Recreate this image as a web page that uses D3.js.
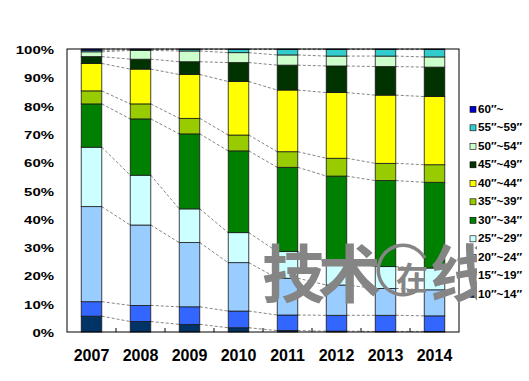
<!DOCTYPE html>
<html><head><meta charset="utf-8">
<script src="https://cdn.jsdelivr.net/npm/d3@7"></script>
<style>body{margin:0;background:#fff}svg{display:block}</style>
</head><body>
<svg id="c" width="529" height="381"></svg>
<script>
const years = ["2007","2008","2009","2010","2011","2012","2013","2014"];
const groupLabels = ["10\u2033~14\u2033","15\u2033~19\u2033","20\u2033~24\u2033","25\u2033~29\u2033","30\u2033~34\u2033","35\u2033~39\u2033","40\u2033~44\u2033","45\u2033~49\u2033","50\u2033~54\u2033","55\u2033~59\u2033","60\u2033~"];
const groupColors = ["#003366","#3366FF","#99CCFF","#CCFFFF","#008000","#99CC00","#FFFF00","#003300","#CCFFCC","#33CCCC","#0000CC"];
const s10_14 = [5.6,3.7,2.7,1.5,0.5,0.3,0.2,0.2];
const s15_19 = [5.1,5.7,6.2,5.9,5.5,5.6,5.7,5.5];
const s20_24 = [33.6,28.4,22.7,17.1,13.0,10.7,9.5,9.2];
const s25_29 = [21.0,17.6,11.9,10.6,9.4,8.0,7.7,7.7];
const s30_34 = [15.3,19.9,26.5,28.9,29.8,30.5,30.4,30.3];
const s35_39 = [4.6,5.3,5.5,5.6,5.5,6.3,6.1,6.2];
const s40_44 = [9.7,12.3,15.5,18.9,21.8,23.2,24.1,24.1];
const s45_49 = [2.4,3.5,4.5,6.7,8.8,9.4,10.1,10.4];
const s50_54 = [1.7,3.1,3.8,3.5,3.6,3.5,3.7,3.6];
const s55_59 = [0.5,0.3,0.5,1.1,1.9,2.3,2.3,2.6];
const s60 = [0.5,0.2,0.2,0.2,0.2,0.2,0.2,0.2];
const yTicks = [0,10,20,30,40,50,60,70,80,90,100];
const seriesList = [s10_14,s15_19,s20_24,s25_29,s30_34,s35_39,s40_44,s45_49,s50_54,s55_59,s60];

const rows = years.map((y,i)=>{const r={year:y};groupLabels.forEach((g,j)=>r[g]=seriesList[j][i]);return r;});
const stacked = d3.stack().keys(groupLabels)(rows);

const svg = d3.select("#c");
const L=67,R=459,T=49,B=332;
const x = d3.scaleBand().domain(years).range([L,R]).paddingInner(0.58).paddingOuter(0.29);
const y = d3.scaleLinear().domain([0,100]).range([B,T]);
const bw = x.bandwidth();
const step = x.step();

// series lines
const lineG = svg.append("g");
stacked.forEach(s=>{
  for(let i=0;i<years.length-1;i++){
    lineG.append("line")
      .attr("x1",x(years[i])+bw).attr("y1",y(s[i][1]))
      .attr("x2",x(years[i+1])).attr("y2",y(s[i+1][1]))
      .attr("stroke","#666").attr("stroke-width",0.8).attr("stroke-dasharray","3,2");
  }
});

// bars
const barG = svg.append("g");
stacked.forEach((s,j)=>{
  barG.selectAll(null).data(s).enter().append("rect")
    .attr("x",d=>x(d.data.year)).attr("width",bw)
    .attr("y",d=>y(d[1])).attr("height",d=>y(d[0])-y(d[1]))
    .attr("fill",groupColors[j]).attr("stroke","#1a1a1a").attr("stroke-width",0.8);
});

// frame
svg.append("rect").attr("x",L).attr("y",T).attr("width",R-L).attr("height",B-T)
  .attr("fill","none").attr("stroke","#000").attr("stroke-width",1);

// x axis tick marks at band boundaries
const xt = d3.range(1,years.length).map(k=>L+k*step);
svg.selectAll(null).data(xt).enter().append("line")
  .attr("x1",d=>d).attr("x2",d=>d).attr("y1",B).attr("y2",B-4)
  .attr("stroke","#000").attr("stroke-width",1);

// x labels
svg.selectAll(null).data(years).enter().append("text")
  .attr("x",d=>x(d)+bw/2).attr("y",361).attr("text-anchor","middle")
  .attr("font-family","Liberation Sans, Arial, sans-serif").attr("font-weight","bold")
  .attr("font-size",16).attr("fill","#000").text(d=>d);

// y labels
svg.selectAll(null).data(yTicks).enter().append("text")
  .attr("transform",d=>`translate(54,${y(d)+5}) scale(1.3,1)`)
  .attr("text-anchor","end")
  .attr("font-family","Liberation Sans, Arial, sans-serif").attr("font-weight","bold")
  .attr("font-size",11.5).attr("fill","#000").text(d=>d+"%");

// legend (top: 60~ down to 10~14)
const legOrder = groupLabels.map((g,j)=>({g,c:groupColors[j]})).reverse();
const lg = svg.append("g");
legOrder.forEach((d,i)=>{
  const cy = 109.3 + i*18.5;
  lg.append("rect").attr("x",470).attr("y",cy-3).attr("width",6).attr("height",6)
    .attr("fill",d.c).attr("stroke","#000").attr("stroke-width",0.6);
  lg.append("text").attr("transform",`translate(478,${cy+3.6}) scale(1.17,1)`)
    .attr("font-family","Liberation Sans, Arial, sans-serif").attr("font-weight","bold")
    .attr("font-size",10).attr("fill","#000").text(d.g);
});

// watermark
const wm = svg.append("g").attr("fill","#858585");
svg.append("clipPath").attr("id","wclip").append("rect").attr("x",0).attr("y",0).attr("width",477).attr("height",381);
wm.attr("clip-path","url(#wclip)");
const cjk = "Noto Sans CJK SC, sans-serif";
wm.append("text").attr("x",262).attr("y",297).attr("font-family",cjk).attr("font-weight","bold").attr("font-size",63).text("技");
wm.append("text").attr("x",318).attr("y",297).attr("font-family",cjk).attr("font-weight","bold").attr("font-size",63).text("术");
const arc = d3.arc().innerRadius(23).outerRadius(26.5).startAngle(0.9).endAngle(2*Math.PI-0.5);
wm.append("path").attr("d",arc()).attr("transform","translate(403,270) rotate(90)");
wm.append("text").attr("x",396).attr("y",290).attr("font-family",cjk).attr("font-weight","bold").attr("font-size",32).text("在");
wm.append("text").attr("x",430).attr("y",297).attr("font-family",cjk).attr("font-weight","bold").attr("font-size",63).text("线");
</script>
</body></html>
